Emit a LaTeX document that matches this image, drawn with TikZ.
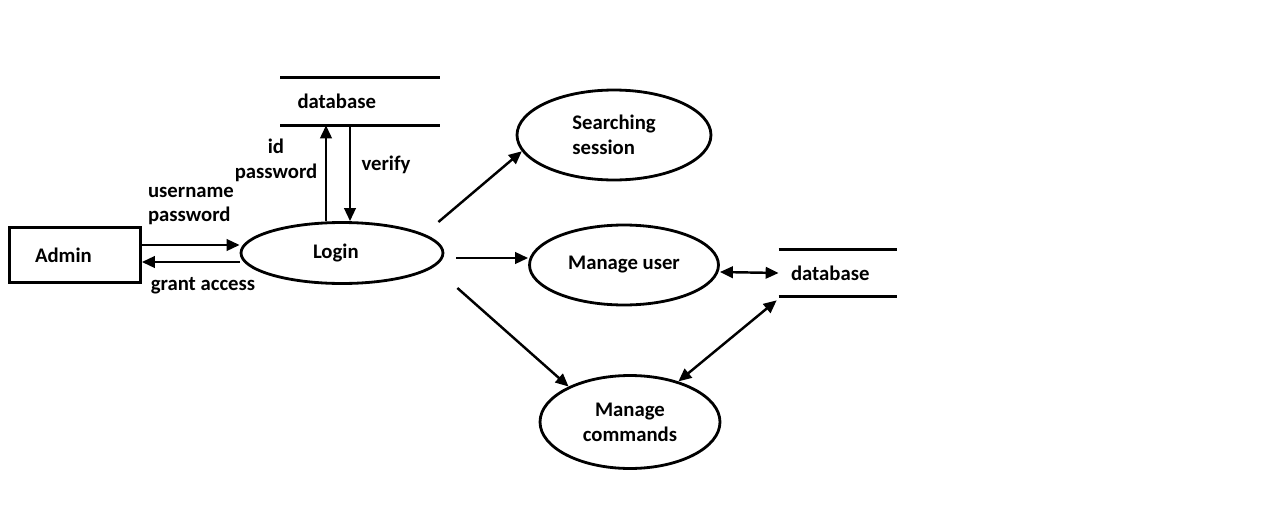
\documentclass[tikz,border=0pt]{standalone}
\usepackage{fontspec}
\setmainfont{Carlito}
\usepackage{tikz}
\usetikzlibrary{arrows.meta,calc,shapes.geometric}

\begin{document}
\begin{tikzpicture}[
  x=0.02cm, y=-0.02cm,
  every node/.style={font=\bfseries\fontsize{11.8}{14.2}\selectfont},
  proc/.style={draw, ellipse, line width=1.6pt, inner sep=0pt, align=center},
  store/.style={inner sep=0pt, align=left},
  line/.style={line width=1.6pt},
  arrow/.style={-{Triangle[length=0.26cm,width=0.23cm]}, line width=1.4pt},
  biarrow/.style={{Triangle[length=0.26cm,width=0.23cm]}-{Triangle[length=0.26cm,width=0.23cm]}, line width=1.4pt}
]
\useasboundingbox (0,0) rectangle (1261,507);
% entities and processes
\node[draw, line width=1.6pt, minimum width=2.62cm, minimum height=1.1cm, text width=1.6cm, align=left] (admin) at (75,255) {Admin};
\node[proc, minimum width=4.04cm, minimum height=1.22cm, text width=1.16cm, align=left] (login) at (342,253) {Login};
\node[proc, align=left, minimum width=3.88cm, minimum height=1.8cm] (search) at (614,135) {Searching\\session};
\node[proc, minimum width=3.78cm, minimum height=1.6cm] (user) at (624,265) {Manage user};
\node[proc, minimum width=3.6cm, minimum height=1.86cm] (commands) at (630,422) {Manage\\commands};
% data stores
\node[store, minimum width=3.18cm, minimum height=0.94cm, text width=2.5cm] (dbtop) at (360,101.5) {database};
\node[store, minimum width=2.36cm, minimum height=0.92cm, text width=1.88cm] (dbright) at (838,273) {database};
\draw[line] (dbtop.north west) -- (dbtop.north east);
\draw[line] (dbtop.south west) -- (dbtop.south east);
\draw[line] (dbright.north west) -- (dbright.north east);
\draw[line] (dbright.south west) -- (dbright.south east);
% labels
\node[align=center] (idpass) at (276,160) {id\\password};
\node (verify) at (386,165) {verify};
\node[align=left] (userpass) at (191,206) {username\\password};
\node (grant) at (203,286) {grant access};
% flows
\draw[arrow] ($(admin.east |- login.west)+(0,-8)$) -- ($(login.west)+(0,-8)$);
\draw[arrow] ($(login.west)+(0,9)$) -- ($(admin.east |- login.west)+(0,9)$);
\draw[arrow] ($(login.north)+(-16,0)$) -- ($(login.north |- dbtop.south)+(-16,0)$);
\draw[arrow] ($(login.north |- dbtop.south)+(8,0)$) -- ($(login.north)+(8,0)$);
\draw[arrow] ($(login.east)+(-6,-31)$) -- (search.190);
\draw[arrow] ($(login.east)+(12,5)$) -- ($(login.east -| user.west)+(0,5)$);
\draw[arrow] ($(login.east)+(13,35)$) -- (commands.150);
\draw[biarrow] ($(user.east)+(0,7)$) -- (dbright.west);
\draw[biarrow] (commands.40) -- ($(dbright.south west)+(-2,4)$);
\end{tikzpicture}
\end{document}
